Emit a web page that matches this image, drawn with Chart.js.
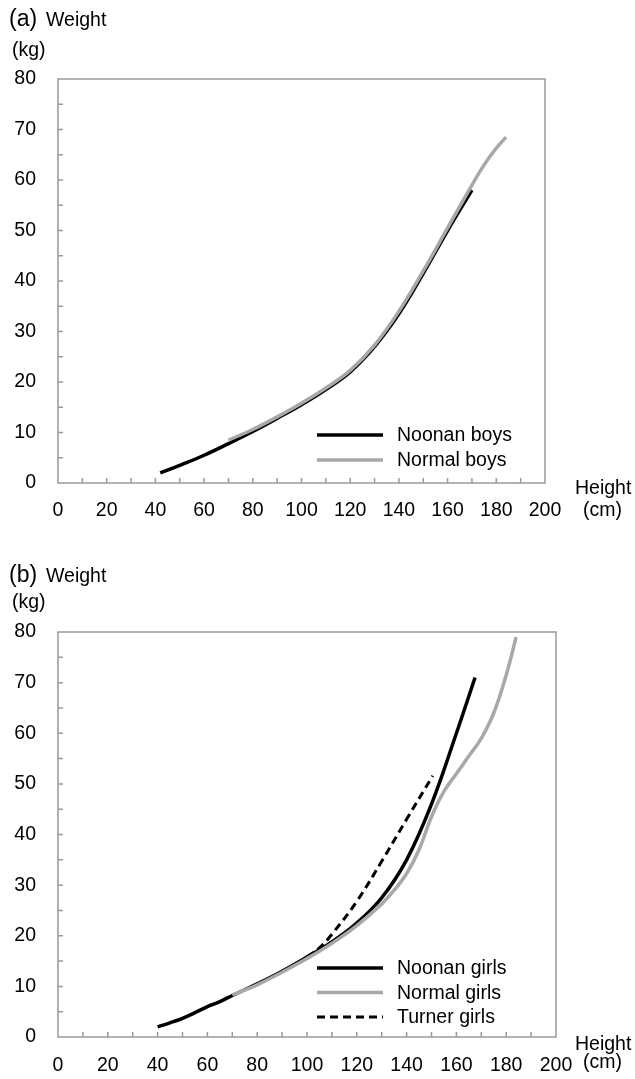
<!DOCTYPE html>
<html>
<head>
<meta charset="utf-8">
<script src="https://cdn.jsdelivr.net/npm/chart.js@4.4.0/dist/chart.umd.min.js"></script>
<style>
    body { margin: 0; background: #fff; }
    #page { position: relative; width: 635px; height: 1079px; font-family: "Liberation Sans", Arial, sans-serif; color: #000; }
    .panel { position: absolute; left: 0; }
    .lbl { position: absolute; line-height: 1; white-space: nowrap; font-size: 19.5px; }
    .big { font-size: 23px; }
</style>
</head>
<body>
<div id="page">
    <div class="panel" style="top:0"><canvas id="chartA" width="635" height="540"></canvas></div>
    <div class="panel" style="top:540px"><canvas id="chartB" width="635" height="539"></canvas></div>

    <span class="lbl big" style="left:9px;top:7px">(a)</span>
    <span class="lbl" style="left:46px;top:10px">Weight</span>
    <span class="lbl" style="left:12px;top:40px">(kg)</span>
    <span class="lbl" style="left:575px;top:477.5px">Height</span>
    <span class="lbl" style="left:583px;top:500px">(cm)</span>

    <span class="lbl big" style="left:9px;top:562.5px">(b)</span>
    <span class="lbl" style="left:46px;top:565.5px">Weight</span>
    <span class="lbl" style="left:12px;top:591.5px">(kg)</span>
    <span class="lbl" style="left:575px;top:1034px">Height</span>
    <span class="lbl" style="left:583px;top:1052px">(cm)</span>
</div>
<script>
// --- dados ---
// (a) meninos
const noonanBoysHeights = [42, 50, 60, 70, 80, 90, 100, 110, 120, 130, 140, 150, 160, 170];
const noonanBoysWeights = [2, 3.5, 5.5, 7.8, 10.2, 12.8, 15.5, 18.5, 22, 27, 33.5, 41.5, 50, 58];
const normalBoysHeights = [70, 80, 90, 100, 110, 120, 130, 140, 150, 160, 170, 175, 180, 184];
const normalBoysWeights = [8.5, 10.6, 13.1, 15.8, 18.8, 22.3, 27.3, 34, 42, 50.5, 59, 63, 66.3, 68.5];

// (b) meninas
const noonanGirlsHeights = [40, 45, 50, 55, 60, 65, 70, 80, 90, 100, 110, 120, 130, 140, 150, 160, 167.5];
const noonanGirlsWeights = [2, 2.8, 3.7, 4.8, 6, 7, 8.2, 10.5, 13, 15.8, 18.8, 22.5, 27.5, 35, 46, 60, 71];
const normalGirlsHeights = [70, 80, 90, 100, 110, 120, 130, 135, 140, 145, 150, 155, 160, 165, 170, 175, 180, 184];
const normalGirlsWeights = [8.3, 10.3, 12.8, 15.5, 18.5, 22, 26.3, 29, 32.3, 37, 43.5, 48.5, 52, 55.5, 59, 64, 71.5, 79];
const turnerGirlsHeights = [100, 105, 110, 120, 130, 140, 150.5];
const turnerGirlsWeights = [15.8, 17.6, 20.3, 26.8, 34.7, 43, 51.6];

const legendA = ['Noonan boys', 'Normal boys'];
const legendB = ['Noonan girls', 'Normal girls', 'Turner girls'];

const FONT = '"Liberation Sans", Arial, sans-serif';
const AXIS_GRAY = '#9a9a9a';
const LINE_GRAY = '#a8a8a8';

const toPoints = (xs, ys) => xs.map((x, i) => ({ x: x, y: ys[i] }));

// moldura cinza + marcas internas dos eixos
const framePlugin = {
    id: 'frame',
    beforeDatasetsDraw(chart) {
        const { ctx, chartArea: a, scales } = chart;
        ctx.save();
        ctx.strokeStyle = AXIS_GRAY;
        ctx.lineWidth = 1.5;
        ctx.strokeRect(a.left, a.top, a.right - a.left, a.bottom - a.top);
        ctx.beginPath();
        scales.x.ticks.forEach(t => {
            const px = scales.x.getPixelForValue(t.value);
            if (px <= a.left + 1 || px >= a.right - 1) return;
            ctx.moveTo(px, a.bottom);
            ctx.lineTo(px, a.bottom - 5);
        });
        scales.y.ticks.forEach(t => {
            const py = scales.y.getPixelForValue(t.value);
            if (py <= a.top + 1 || py >= a.bottom - 1) return;
            ctx.moveTo(a.left, py);
            ctx.lineTo(a.left + 5, py);
        });
        ctx.stroke();
        ctx.restore();
    }
};

// legenda dentro do gráfico
const insideLegend = {
    id: 'insideLegend',
    afterDraw(chart, args, opts) {
        const { ctx } = chart;
        ctx.save();
        ctx.font = '19.5px ' + FONT;
        ctx.textBaseline = 'middle';
        opts.order.forEach((label, i) => {
            const ds = chart.data.datasets.find(d => d.label === label);
            const y = opts.y + i * opts.gap;
            ctx.strokeStyle = ds.borderColor;
            ctx.lineWidth = ds.borderWidth;
            ctx.setLineDash(ds.borderDash || []);
            ctx.beginPath();
            ctx.moveTo(opts.x, y);
            ctx.lineTo(opts.x + 66, y);
            ctx.stroke();
            ctx.setLineDash([]);
            ctx.fillStyle = '#000';
            ctx.fillText(label, opts.x + 80, y + 1);
        });
        ctx.restore();
    }
};

function lineSet(label, xs, ys, color, width, dash) {
    return {
        label: label,
        data: toPoints(xs, ys),
        showLine: true,
        borderColor: color,
        borderWidth: width,
        borderDash: dash || [],
        pointRadius: 0,
        tension: 0.4,
        fill: false
    };
}

function makeChart(id, datasets, area, legendOpts) {
    const canvas = document.getElementById(id);
    const H = canvas.height;
    return new Chart(canvas.getContext('2d'), {
        type: 'scatter',
        data: { datasets: datasets },
        options: {
            responsive: false,
            animation: false,
            layout: { padding: { top: area.top, right: canvas.width - area.right, bottom: 0, left: 0 } },
            plugins: {
                legend: { display: false },
                tooltip: { enabled: false },
                insideLegend: legendOpts
            },
            scales: {
                x: {
                    type: 'linear', min: 0, max: 200,
                    afterFit: s => { s.height = H - area.bottom; },
                    ticks: {
                        stepSize: 10, autoSkip: false, maxRotation: 0,
                        padding: area.xPad,
                        color: '#000', font: { family: FONT, size: 19.5 },
                        callback: v => (v % 20 === 0 ? v : '')
                    },
                    grid: { display: false, drawTicks: false },
                    border: { display: false }
                },
                y: {
                    type: 'linear', min: 0, max: 80,
                    afterFit: s => { s.width = area.left; },
                    ticks: {
                        stepSize: 5, autoSkip: false,
                        padding: 22,
                        color: '#000', font: { family: FONT, size: 19.5 },
                        callback: v => (v % 10 === 0 ? v : '')
                    },
                    grid: { display: false, drawTicks: false },
                    border: { display: false }
                }
            }
        },
        plugins: [framePlugin, insideLegend]
    });
}

makeChart('chartA', [
    lineSet('Normal boys', normalBoysHeights, normalBoysWeights, LINE_GRAY, 3.5),
    lineSet('Noonan boys', noonanBoysHeights, noonanBoysWeights, '#000', 3.5)
], { left: 58, right: 545, top: 79, bottom: 483, xPad: 16 }, { order: legendA, x: 317, y: 435, gap: 25 });

makeChart('chartB', [
    lineSet('Normal girls', normalGirlsHeights, normalGirlsWeights, LINE_GRAY, 3.5),
    lineSet('Turner girls', turnerGirlsHeights, turnerGirlsWeights, '#000', 3, [8, 5]),
    lineSet('Noonan girls', noonanGirlsHeights, noonanGirlsWeights, '#000', 3.5)
], { left: 58, right: 556, top: 92, bottom: 497, xPad: 17 }, { order: legendB, x: 317, y: 428, gap: 24.5 });
</script>
</body>
</html>
